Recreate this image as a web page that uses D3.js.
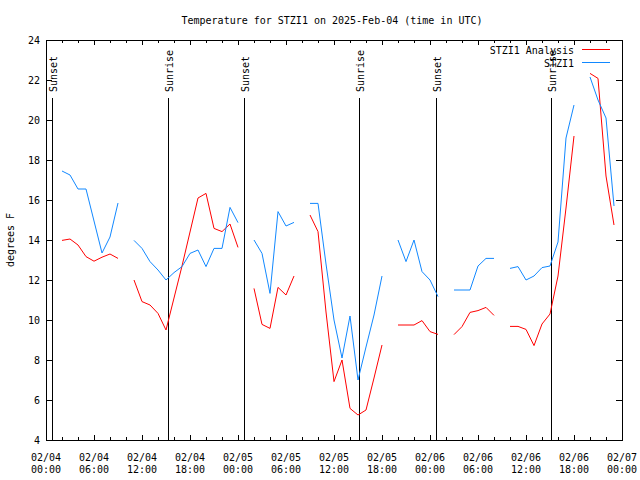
<!DOCTYPE html>
<html>
<head>
<meta charset="utf-8">
<script src="https://cdn.jsdelivr.net/npm/d3@7"></script>
<style>
  html, body { margin: 0; padding: 0; background: #fff; }
  text { font-family: "DejaVu Sans Mono", monospace; font-size: 10px; fill: #000; }
</style>
</head>
<body>
<svg id="chart" width="640" height="480"></svg>
<script>
// Hours since 2025-02-04 00:00 UTC
const hours = d3.range(0, 72);
// Observed STZI1 (null = missing)
const obsValues = [
  null, null, 17.45, 17.25, 16.55, 16.55, 14.95, 13.35, 14.15, 15.85, null,
  13.98, 13.58, 12.92, 12.5, 12.0, 12.37, 12.67, 13.33, 13.5, 12.67, 13.58, 13.58, 15.63, 14.87, null,
  14.0, 13.33, 11.33, 15.42, 14.7, 14.88, null,
  15.83, 15.83, 12.8, 10.0, 8.1, 10.2, 7.0, 8.65, 10.25, 12.2, null,
  14.0, 12.92, 14.0, 12.42, 12.0, 11.17, null,
  11.5, 11.5, 11.5, 12.7, 13.08, 13.08, null,
  12.58, 12.67, 12.0, 12.2, 12.62, 12.7, 13.9, 19.1, 20.75, null,
  22.15, 21.0, 20.1, 15.7
];
// STZI1 Analysis
const anaValues = [
  null, null, 13.98, 14.05, 13.75, 13.17, 12.94, 13.14, 13.3, 13.08, null,
  12.0, 10.92, 10.75, 10.33, 9.5, 11.1, 12.7, 14.4, 16.1, 16.33, 14.58, 14.42, 14.8, 13.63, null,
  11.58, 9.78, 9.58, 11.63, 11.25, 12.2, null,
  15.25, 14.42, 10.4, 6.92, 8.0, 5.58, 5.25, 5.5, 7.1, 8.75, null,
  9.75, 9.75, 9.75, 9.97, 9.42, 9.28, null,
  9.27, 9.67, 10.38, 10.47, 10.63, 10.23, null,
  9.68, 9.68, 9.53, 8.72, 9.8, 10.3, 12.2, 15.6, 19.2, null,
  22.33, 22.08, 17.2, 14.75
];
const sunEvents = ["Sunset", "Sunrise", "Sunset", "Sunrise", "Sunset", "Sunrise"];
const sunHours = [0.79, 15.28, 24.8, 39.15, 48.8, 63.12];
const yTicks = [4, 6, 8, 10, 12, 14, 16, 18, 20, 22, 24];
const seriesNames = ["STZI1 Analysis", "STZI1"];
const seriesColors = ["#ff0000", "#1188ff"];
const titleText = "Temperature for STZI1 on 2025-Feb-04 (time in UTC)";
const yLabel = "degrees F";

const t0 = Date.UTC(2025, 1, 4);
const toDate = h => new Date(t0 + h * 3600 * 1000);

const svg = d3.select("#chart");
const L = 46, R = 622, T = 40, B = 440;

const x = d3.scaleUtc().domain([toDate(0), toDate(72)]).range([L, R]);
const y = d3.scaleLinear().domain([4, 24]).range([B, T]);

// Title
svg.append("text").attr("x", 332).attr("y", 24).attr("text-anchor", "middle").text(titleText);
// Y label
svg.append("text").attr("transform", "translate(14,240) rotate(-90)").attr("text-anchor", "middle").text(yLabel);

const g = svg.append("g").attr("shape-rendering", "crispEdges");

// Ticks
const majorX = d3.range(0, 73, 6).map(toDate);
const minorX = d3.range(0, 73, 2).filter(h => h % 6 !== 0).map(toDate);
const tickG = g.append("g").attr("stroke", "#000").attr("stroke-width", 1);
majorX.forEach(d => {
  const xx = Math.round(x(d)) + 0.5;
  tickG.append("line").attr("x1", xx).attr("x2", xx).attr("y1", B).attr("y2", B - 5);
  tickG.append("line").attr("x1", xx).attr("x2", xx).attr("y1", T).attr("y2", T + 5);
});
minorX.forEach(d => {
  const xx = Math.round(x(d)) + 0.5;
  tickG.append("line").attr("x1", xx).attr("x2", xx).attr("y1", B).attr("y2", B - 3);
  tickG.append("line").attr("x1", xx).attr("x2", xx).attr("y1", T).attr("y2", T + 3);
});
yTicks.forEach(v => {
  const yy = Math.round(y(v)) + 0.5;
  tickG.append("line").attr("x1", L).attr("x2", L + 6).attr("y1", yy).attr("y2", yy);
  tickG.append("line").attr("x1", R).attr("x2", R - 6).attr("y1", yy).attr("y2", yy);
});

// Tick labels
const fmtDate = d3.utcFormat("%m/%d"), fmtTime = d3.utcFormat("%H:%M");
majorX.forEach(d => {
  const t = svg.append("text").attr("text-anchor", "middle");
  t.append("tspan").attr("x", x(d)).attr("y", 461).text(fmtDate(d));
  t.append("tspan").attr("x", x(d)).attr("y", 473).text(fmtTime(d));
});
yTicks.forEach(v => {
  svg.append("text").attr("x", 40).attr("y", y(v) + 4).attr("text-anchor", "end").text(v);
});

// Border
g.append("rect").attr("x", L + 0.5).attr("y", T + 0.5).attr("width", R - L).attr("height", B - T)
  .attr("fill", "none").attr("stroke", "#000");

// Sunrise / sunset
sunHours.forEach((h, i) => {
  const xx = Math.round(x(toDate(h))) + 0.5;
  g.append("line").attr("x1", xx).attr("x2", xx).attr("y1", 98).attr("y2", B).attr("stroke", "#000");
  svg.append("text").attr("transform", `translate(${xx + 4.5},92) rotate(-90)`).attr("text-anchor", "start").text(sunEvents[i]);
});

// Series
const line = d3.line().defined(d => d[1] !== null).x(d => x(toDate(d[0]))).y(d => y(d[1]));
[anaValues, obsValues].forEach((vals, i) => {
  svg.append("path").datum(hours.map((h, k) => [h, vals[k]]))
    .attr("d", line).attr("fill", "none").attr("stroke", seriesColors[i]).attr("stroke-width", 1);
});

// Legend
seriesNames.forEach((name, i) => {
  const ly = 49.5 + i * 13;
  svg.append("text").attr("x", 574).attr("y", ly + 4.5).attr("text-anchor", "end").text(name);
  svg.append("line").attr("x1", 582).attr("x2", 610).attr("y1", ly).attr("y2", ly)
    .attr("stroke", seriesColors[i]).attr("stroke-width", 1).attr("shape-rendering", "crispEdges");
});
</script>
</body>
</html>
